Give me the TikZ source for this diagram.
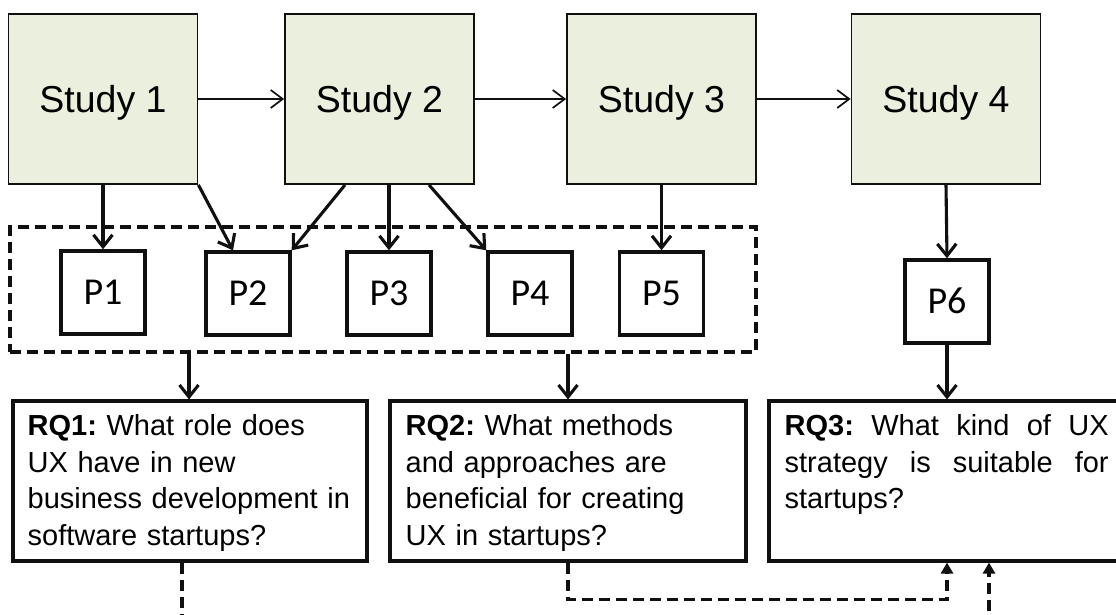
\documentclass[tikz,border=0pt]{standalone}
\usepackage{fontspec}
\setmainfont{Liberation Sans}
\newfontfamily\calibri{Carlito}
\usetikzlibrary{arrows.meta,calc}
\definecolor{studyfill}{HTML}{EBEFDE}
\definecolor{ink}{HTML}{101010}
\frenchspacing
\begin{document}
\begin{tikzpicture}[x=1pt,y=-1pt,
  studybox/.style={draw=ink, line width=1.8pt, fill=studyfill, minimum width=189pt, minimum height=170pt, inner sep=0pt, font=\fontsize{37.5}{44}\selectfont, text height=27pt, text depth=0pt},
  pbox/.style={draw=ink, line width=3.4pt, fill=white, minimum width=84pt, minimum height=83pt, inner sep=0pt, font=\calibri\fontsize{38}{45}\selectfont, text height=24.5pt, text depth=0pt},
  grpbox/.style={draw=ink, line width=3.2pt, dash pattern=on 11pt off 6pt, minimum width=746pt, minimum height=125pt, inner sep=0pt},
  rqbox/.style={draw=ink, line width=3.1pt, minimum height=160pt, inner sep=0pt},
  rqtext/.style={anchor=north west, inner sep=0pt, text width=325pt, align=left, font=\fontsize{29}{36.5}\selectfont},
  flow/.style={draw=ink, line width=1.7pt, -{Straight Barb[length=12pt,width=18pt]}},
  link/.style={draw=ink, line width=3.1pt, -{Straight Barb[length=12pt,width=19pt]}},
  feed/.style={draw=ink, line width=3.1pt, dash pattern=on 11pt off 6pt, -{Triangle[length=11pt,width=12pt]}},
]
\useasboundingbox (0,0) rectangle (1116,614);
\fill[white] (0,0) rectangle (1116,614);
\clip (0,0) rectangle (1116,614);

% studies
\node[studybox] (S1) at (103,99) {Study 1};
\node[studybox] (S2) at (379.5,99) {Study 2};
\node[studybox] (S3) at (661.5,99) {Study 3};
\node[studybox] (S4) at (946,99) {Study 4};

% group of publications
\node[grpbox] (grp) at (383,289.5) {};
\node[pbox] (P1) at (103,292.5) {P1};
\node[pbox] (P2) at (248,293.5) {P2};
\node[pbox] (P3) at (389,293.5) {P3};
\node[pbox] (P4) at (530,293.5) {P4};
\node[pbox] (P5) at (661.5,293.5) {P5};
\node[pbox] (P6) at (947,301.5) {P6};

% research questions
\node[rqbox, minimum width=354pt] (RQ1) at (190,481) {};
\node[rqbox, minimum width=356pt] (RQ2) at (568,481) {};
\node[rqbox, minimum width=356pt] (RQ3) at (947,481) {};
\node[rqtext] (T1) at ([xshift=16pt,yshift=-15pt]RQ1.north west)
  {\textbf{RQ1:} What role does\\UX have in new\\business development in\\software startups?};
\node[rqtext] (T2) at ([xshift=17pt,yshift=-15pt]RQ2.north west)
  {\textbf{RQ2:} What methods\\and approaches are\\beneficial for creating\\UX in startups?};
\node[rqtext] (T3) at ([xshift=17pt,yshift=-15pt]RQ3.north west)
  {\makebox[324pt][l]{\textbf{RQ3:}\hfill What\hfill kind\hfill of\hfill UX}\\\makebox[324pt][l]{strategy\hfill is\hfill suitable\hfill for}\\startups?};

% connectors
\draw[flow] (S1.east) -- (S2.west);
\draw[flow] (S2.east) -- (S3.west);
\draw[flow] (S3.east) -- (S4.west);
\draw[link] (P1.north |- S1.south) -- (P1.north);
\draw[link] (S1.south east) -- ([xshift=-15pt]P2.north);
\draw[link] ([xshift=-34.5pt]S2.south) -- (P2.north east);
\draw[link] (P3.north |- S2.south) -- (P3.north);
\draw[link] ([xshift=49.5pt]S2.south) -- (P4.north west);
\draw[link] (S3.south) -- (P5.north);
\draw[link] (S4.south) -- (P6.north);
\draw[link] ([xshift=-1pt]RQ1.north |- grp.south) -- ([xshift=-1pt]RQ1.north);
\draw[link] (RQ2.north |- grp.south) -- (RQ2.north);
\draw[link] (P6.south) -- (RQ3.north);
\draw[feed] (RQ2.south) -- ++(0,37) -| (RQ3.south);
\draw[feed] ([xshift=-8pt]RQ1.south) -- ++(0,54) -| ([xshift=42pt]RQ3.south);
\end{tikzpicture}
\end{document}
